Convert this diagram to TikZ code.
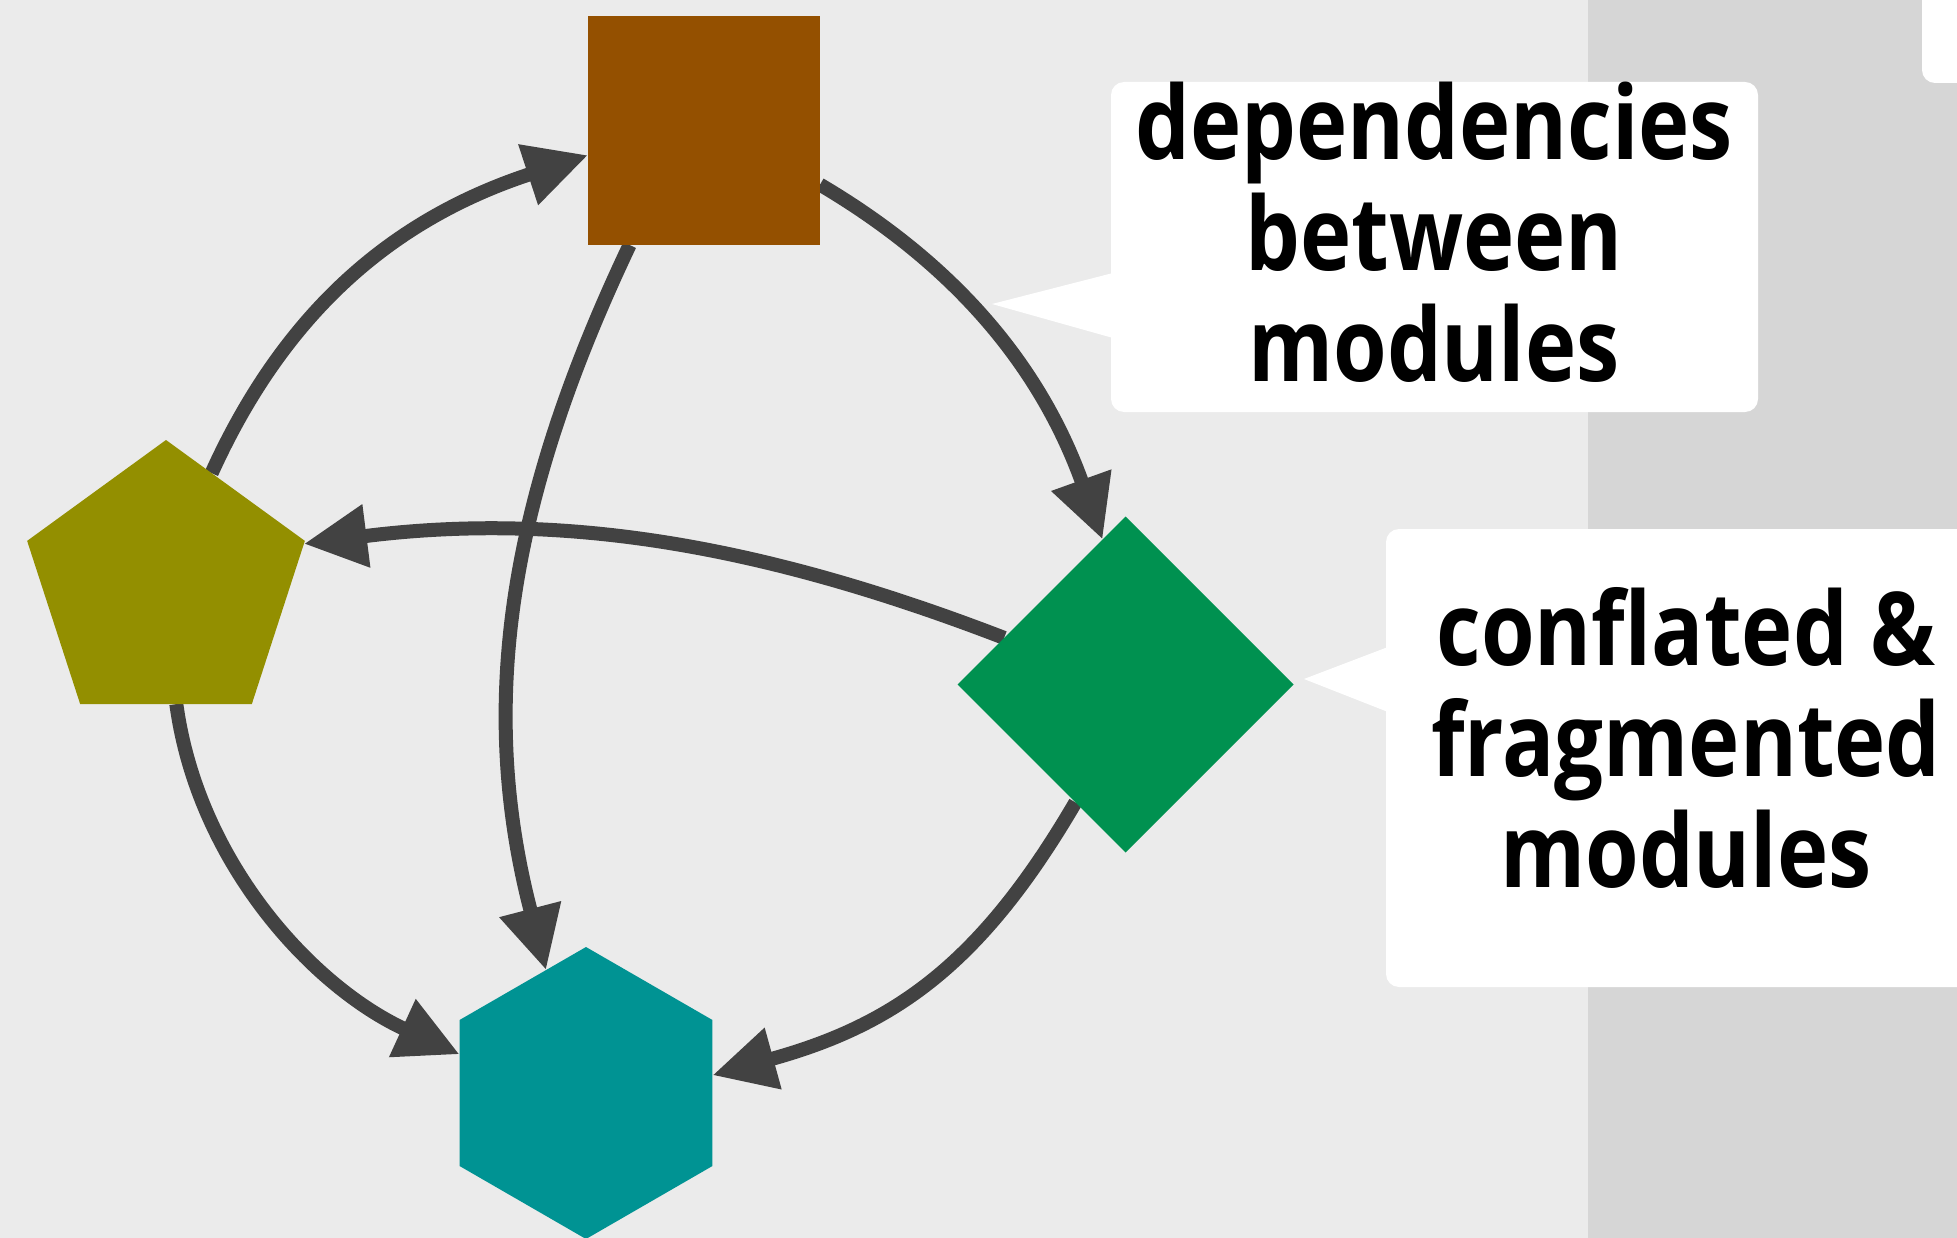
\documentclass[tikz,border=0pt]{standalone}
\usepackage{fontspec}
\newfontfamily\lblfont{Open Sans}[FakeStretch=0.85]
\usetikzlibrary{shapes.geometric,arrows.meta}
\definecolor{bgc}{HTML}{EBEBEB}
\definecolor{stripc}{HTML}{D6D6D6}
\definecolor{arrc}{HTML}{424242}
\definecolor{brownc}{HTML}{945000}
\definecolor{olivec}{HTML}{938F00}
\definecolor{tealc}{HTML}{009393}
\definecolor{greenc}{HTML}{009150}
\pgfdeclarelayer{bglayer}
\pgfdeclarelayer{edgelayer}
\pgfsetlayers{bglayer,edgelayer,main}
\begin{document}
\begin{tikzpicture}[x=1pt,y=-1pt,
  shapebox/.style={draw=none,inner sep=0pt,outer sep=0pt},
  polyg/.style={shapebox,regular polygon,minimum size=#1},
  arr/.style={draw=arrc,line width=14pt,-{Triangle[length=63pt,width=60pt]}},
  lbl/.style={inner sep=0pt,outer sep=0pt,anchor=base,text=black,
    font=\lblfont\bfseries\fontsize{102}{111}\selectfont}]
\useasboundingbox (0,0) rectangle (1957,1238);
% nodes
\node[shapebox,fill=brownc,minimum width=232pt,minimum height=229pt] (sq) at (704,130.5) {};
\node[polyg=292pt,regular polygon sides=5,fill=olivec] (pent) at (166,586) {};
\node[polyg=292pt,regular polygon sides=6,regular polygon rotate=30,fill=tealc] (hex) at (586,1093) {};
\node[polyg=336pt,regular polygon sides=4,regular polygon rotate=45,fill=greenc] (dia) at (1125.5,684.5) {};
% background and callouts
\begin{pgfonlayer}{bglayer}
\fill[bgc] (0,0) rectangle (1957,1238);
\fill[stripc] (1588,0) rectangle (1957,1238);
\fill[white,rounded corners=13pt] (1922,-30) rectangle (1990,83);
\fill[white,rounded corners=13pt] (1111,82) rectangle (1758,412);
\fill[white] (1113,273) -- (992,304) -- (1113,338) -- cycle;
\fill[white,rounded corners=13pt] (1386,529) rectangle (1990,987);
\fill[white] (1388,647) -- (1304,679) -- (1388,712) -- cycle;
\end{pgfonlayer}
% labels
\node[lbl] (l1a) at (1434,160) {dependencies};
\node[lbl] (l1b) at (1434,271) {between};
\node[lbl] (l1c) at (1434,382) {modules};
\node[lbl] (l2a) at (1686,665) {conflated \&};
\node[lbl] (l2b) at (1686,776) {fragmented};
\node[lbl] (l2c) at (1686,887) {modules};
% connectors
\begin{pgfonlayer}{edgelayer}
\draw[arr] (pent.68) .. controls (290,300) and (405,215) .. (sq.192);
\draw[arr] (sq.-25) .. controls (968,272) and (1045,379) .. (dia.99);
\draw[arr] (sq.237) .. controls (511,495) and (476,701) .. (hex.108);
\draw[arr] (dia.159) .. controls (763,545) and (563,511) .. (pent.17);
\draw[arr] (pent.275) .. controls (198,863) and (313,987) .. (hex.163);
\draw[arr] (dia.247) .. controls (981,964) and (895,1025) .. (hex.8);
\end{pgfonlayer}
\end{tikzpicture}
\end{document}
